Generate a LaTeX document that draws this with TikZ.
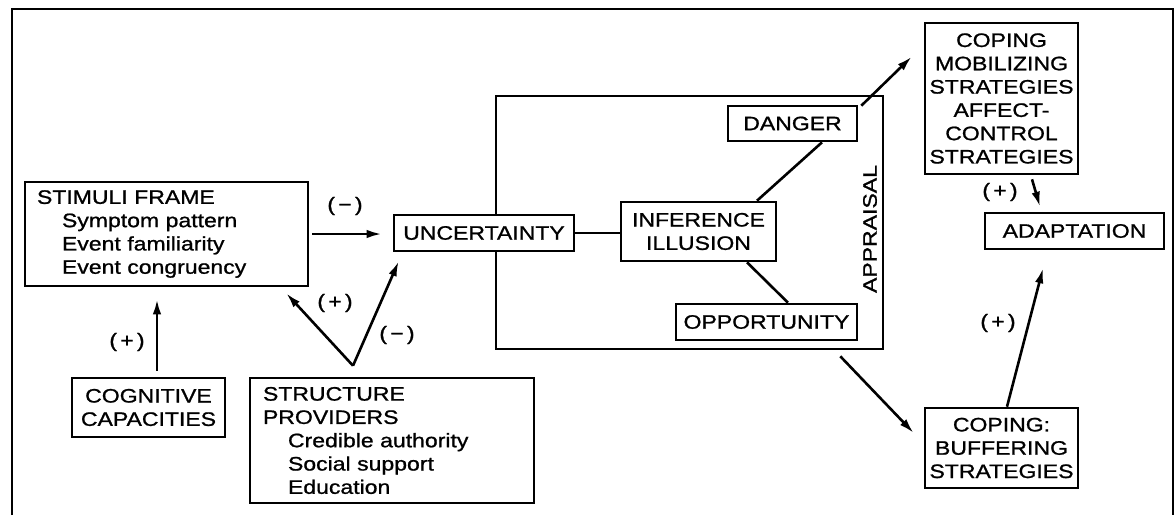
\documentclass[tikz,border=0pt]{standalone}
\usepackage{fontspec}
\setmainfont[FakeStretch=1.18,FakeBold=1]{Liberation Sans}
\usetikzlibrary{arrows.meta}
\begin{document}
\begin{tikzpicture}[x=1pt,y=-1pt,
  font=\fontsize{19.5}{23.3}\selectfont,
  box/.style={draw, line width=2.6pt, inner sep=0pt, align=center, fill=white},
  arr/.style={-{Latex[length=15pt,width=8.5pt]}, line width=2.6pt},
  conn/.style={line width=2.6pt},
  lbl/.style={inner sep=0pt}]
\useasboundingbox (0,0) rectangle (1176,515);
\fill[white] (0,0) rectangle (1176,515);
% outer frame
\draw[line width=2.6pt] (12,515) -- (12,9) -- (1173,9) -- (1173,515);

% appraisal box
\node[draw, line width=2.6pt, minimum width=387pt, minimum height=253pt, inner sep=0pt] (appr) at (689.5,222.5) {};
\node[lbl, rotate=90] (applbl) at (870,229) {APPRAISAL};

% nodes
\node[box, minimum width=283pt, minimum height=104pt, text width=259pt, align=left] (stim) at (166.5,234)
  {STIMULI FRAME\\\hspace*{25pt}Symptom pattern\\\hspace*{25pt}Event familiarity\\\hspace*{25pt}Event congruency};
\node[box, minimum width=180pt, minimum height=36pt] (unc) at (484,233) {UNCERTAINTY};
\node[box, minimum width=155pt, minimum height=59pt] (inf) at (698.5,231.5) {INFERENCE\\ILLUSION};
\node[box, minimum width=129pt, minimum height=35pt] (danger) at (792.5,123.5) {DANGER};
\node[box, minimum width=181pt, minimum height=36pt] (opp) at (766.5,322) {OPPORTUNITY};
\node[box, minimum width=153pt, minimum height=151pt] (mob) at (1001.5,98.5)
  {COPING\\MOBILIZING\\STRATEGIES\\AFFECT-\\CONTROL\\STRATEGIES};
\node[box, minimum width=179pt, minimum height=36pt] (adapt) at (1074.5,231) {ADAPTATION};
\node[box, minimum width=153pt, minimum height=80pt] (buf) at (1001.5,448) {COPING:\\BUFFERING\\STRATEGIES};
\node[box, minimum width=153pt, minimum height=59pt] (cog) at (148.5,407.5) {COGNITIVE\\CAPACITIES};
\node[box, minimum width=284pt, minimum height=125pt, text width=258pt, align=left] (struct) at (392,440.5)
  {STRUCTURE\\PROVIDERS\\\hspace*{25pt}Credible authority\\\hspace*{25pt}Social support\\\hspace*{25pt}Education};

% connectors
\draw[arr, shorten <=3pt, shorten >=11pt] (stim.east) -- (stim.east -| unc.west);
\draw[conn] (unc.east) -- (unc.east -| inf.west);
\draw[conn] ([shift={(58.5,0)}]inf.north) -- ([shift={(29.5,0)}]danger.south);
\draw[conn] ([shift={(48.5,0)}]inf.south) -- ([shift={(21.5,0)}]opp.north);
\draw[arr] ([shift={(3,1)}]danger.north east) -- ([shift={(-12,35)}]mob.north west);
\draw[arr] ([shift={(30.5,4)}]mob.south) -- ([shift={(-34.5,-5)}]adapt.north);
\draw[arr] ([shift={(5.5,0)}]buf.north) -- ([shift={(-31.5,18)}]adapt.south);
\draw[arr] ([shift={(-44,6)}]appr.south east) -- ([shift={(-10,-15)}]buf.west);
\draw[arr] ([shift={(8.5,-6)}]cog.north) -- ([shift={(-9.5,12)}]stim.south);
\coordinate (v) at ([shift={(-39,-11)}]struct.north);
\draw[arr] (v) -- ([shift={(-23,6)}]stim.south east);
\draw[arr] (v) -- ([shift={(6,9)}]unc.south west);

% labels
\node[lbl] (l1) at (345,206) {(\,−\,)};
\node[lbl] (l2) at (127,342) {(\,+\,)};
\node[lbl] (l3) at (335,303) {(\,+\,)};
\node[lbl] (l4) at (397,335) {(\,−\,)};
\node[lbl] (l5) at (1000,192) {(\,+\,)};
\node[lbl] (l6) at (998,323) {(\,+\,)};
\end{tikzpicture}
\end{document}
